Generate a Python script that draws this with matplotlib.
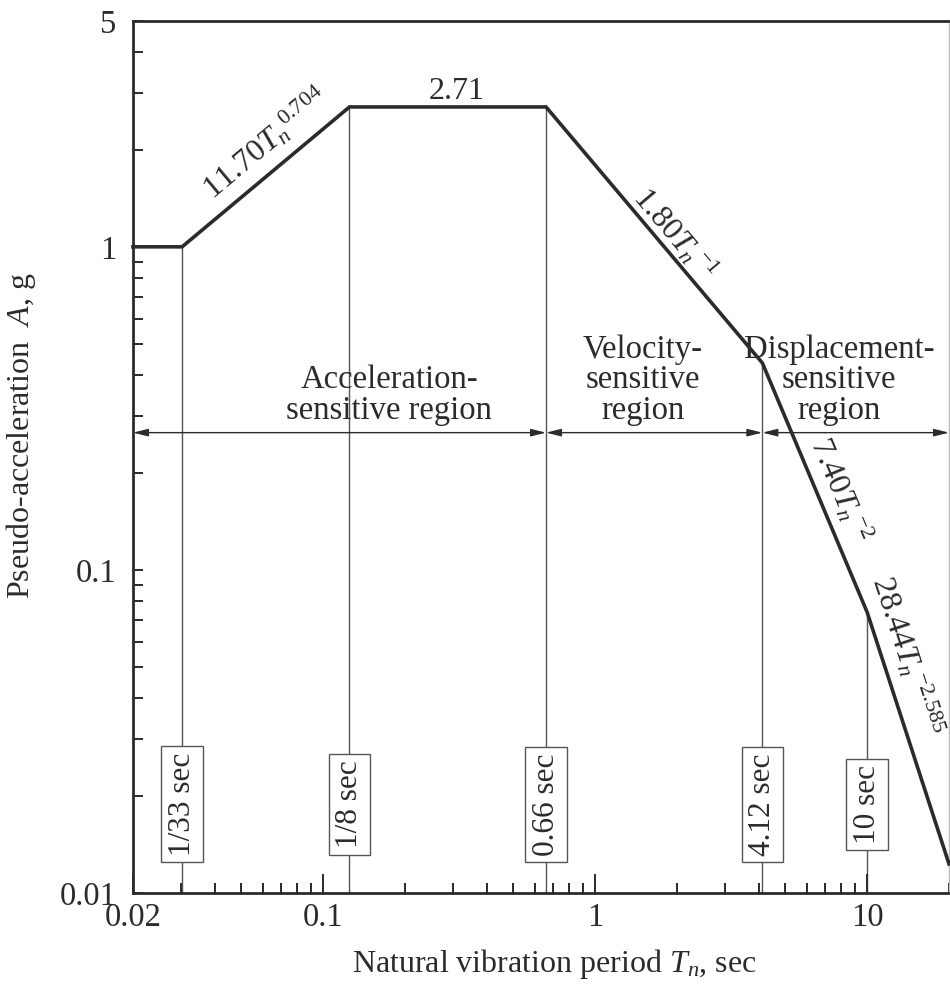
import numpy as np
import matplotlib
matplotlib.use("Agg")
import matplotlib.pyplot as plt
from matplotlib.ticker import LogLocator, NullFormatter, FixedLocator

plt.rcParams['font.family'] = ['Liberation Serif', 'DejaVu Serif']
plt.rcParams['mathtext.fontset'] = 'custom'
plt.rcParams['mathtext.rm'] = 'Liberation Serif'
plt.rcParams['mathtext.it'] = 'Liberation Serif:italic'

# design spectrum breakpoints (period in sec, pseudo-acceleration in g)
periods = [0.02, 1 / 33, 1 / 8, 0.66, 4.12, 10, 20]
accel = [1.0, 1.0, 2.71, 2.71, 0.437, 0.074, 0.0123]

# corner periods marked with vertical lines
corner_T = [1 / 33, 1 / 8, 0.66, 4.12, 10]
corner_A = [1.0, 2.71, 2.71, 0.437, 0.074]
corner_labels = ['1/33 sec', '1/8 sec', '0.66 sec', '4.12 sec', '10 sec']

# segment equations: (label, segment index, text centre T, text centre A)
seg_labels = [r'11.70$T_n{}^{0.704}$', r'1.80$T_n{}^{-1}$',
              r'7.40$T_n{}^{-2}$', r'28.44$T_n{}^{-2.585}$']
seg_index = [1, 3, 4, 5]
seg_T = [0.0614, 1.97, 7.96, 14.0]
seg_A = [2.10, 1.097, 0.177, 0.054]

# regions
region_labels = ['Acceleration-\nsensitive region', 'Velocity-\nsensitive\nregion',
                 'Displacement-\nsensitive\nregion']
region_bounds = [(0.02, 0.66), (0.66, 4.12), (4.12, 20)]
region_T = [0.175, 1.5, 7.9]

ink = '#2b2b2b'
fig = plt.figure(figsize=(9.5, 9.89), dpi=100)
ax = fig.add_axes([133 / 950, 96 / 989, 816 / 950, 872 / 989])
ax.set_xscale('log')
ax.set_yscale('log')
ax.set_xlim(0.02, 20)
ax.set_ylim(0.01, 5)

# spectrum
ax.plot(periods, accel, color=ink, lw=2.6, solid_joinstyle='miter', zorder=4, clip_on=False)

# vertical lines and boxed period labels
ax.vlines(corner_T, 0.01, corner_A, color='#555555', lw=1.0, zorder=1)
for t, lab in zip(corner_T, corner_labels):
    ax.text(t, 0.0188, lab, rotation=90, ha='center', va='center', fontsize=22.5,
            color=ink, zorder=3,
            bbox=dict(boxstyle='square,pad=0.2', fc='white', ec='#555555', lw=1.0))

# equation labels along segments
for lab, i, tx, ay in zip(seg_labels, seg_index, seg_T, seg_A):
    p0 = ax.transData.transform((periods[i], accel[i]))
    p1 = ax.transData.transform((periods[i + 1], accel[i + 1]))
    ang = np.degrees(np.arctan2(p1[1] - p0[1], p1[0] - p0[0]))
    ax.text(tx, ay, lab, rotation=ang, rotation_mode='anchor', ha='center', va='center',
            fontsize=23, color=ink, zorder=5, clip_on=False)

ax.text(0.31, 2.72, '2.71', ha='center', va='bottom', fontsize=23, color=ink)

# region arrows and labels
arrow_A = 0.266
for (a, b), lab, tx in zip(region_bounds, region_labels, region_T):
    ax.annotate('', xy=(a, arrow_A), xytext=(b, arrow_A),
                arrowprops=dict(arrowstyle='<|-|>,head_length=0.6,head_width=0.15',
                                mutation_scale=15, color=ink, lw=1.0,
                                shrinkA=0, shrinkB=0), annotation_clip=False)
    ax.text(tx, 0.279, lab, ha='center', va='bottom', fontsize=23.5, color=ink,
            linespacing=1.0, multialignment='center')

# ticks
ax.xaxis.set_major_locator(FixedLocator([0.02, 0.1, 1, 10]))
ax.set_xticklabels(['0.02', '0.1', '1', '10'])
ax.xaxis.set_minor_locator(LogLocator(base=10, subs=np.arange(2, 10)))
ax.xaxis.set_minor_formatter(NullFormatter())
ax.yaxis.set_major_locator(FixedLocator([0.01, 0.1, 1, 5]))
ax.set_yticklabels(['0.01', '0.1', '1', '5'])
ax.yaxis.set_minor_locator(LogLocator(base=10, subs=np.arange(2, 10)))
ax.yaxis.set_minor_formatter(NullFormatter())

ax.tick_params(axis='both', which='both', direction='in', color=ink, width=1.4,
               labelsize=23.5, labelcolor=ink, top=False, right=False)
ax.tick_params(axis='x', which='major', length=14, pad=7)
ax.tick_params(axis='x', which='minor', length=7)
ax.tick_params(axis='y', which='major', length=7, pad=12)
ax.tick_params(axis='y', which='minor', length=7)

for side in ['left', 'bottom', 'top']:
    ax.spines[side].set_color(ink)
    ax.spines[side].set_linewidth(2.0)
ax.spines['right'].set_color('#bbbbbb')
ax.spines['right'].set_linewidth(1.0)

ax.set_xlabel(r'Natural vibration period $T_n$, sec', fontsize=23, color=ink)
ax.xaxis.set_label_coords(0.517, -0.062)
ax.set_ylabel(r'Pseudo-acceleration  $A$, g', fontsize=23, color=ink)
ax.yaxis.set_label_coords(-0.117, 0.524)

fig.savefig('out.png', dpi=100)
